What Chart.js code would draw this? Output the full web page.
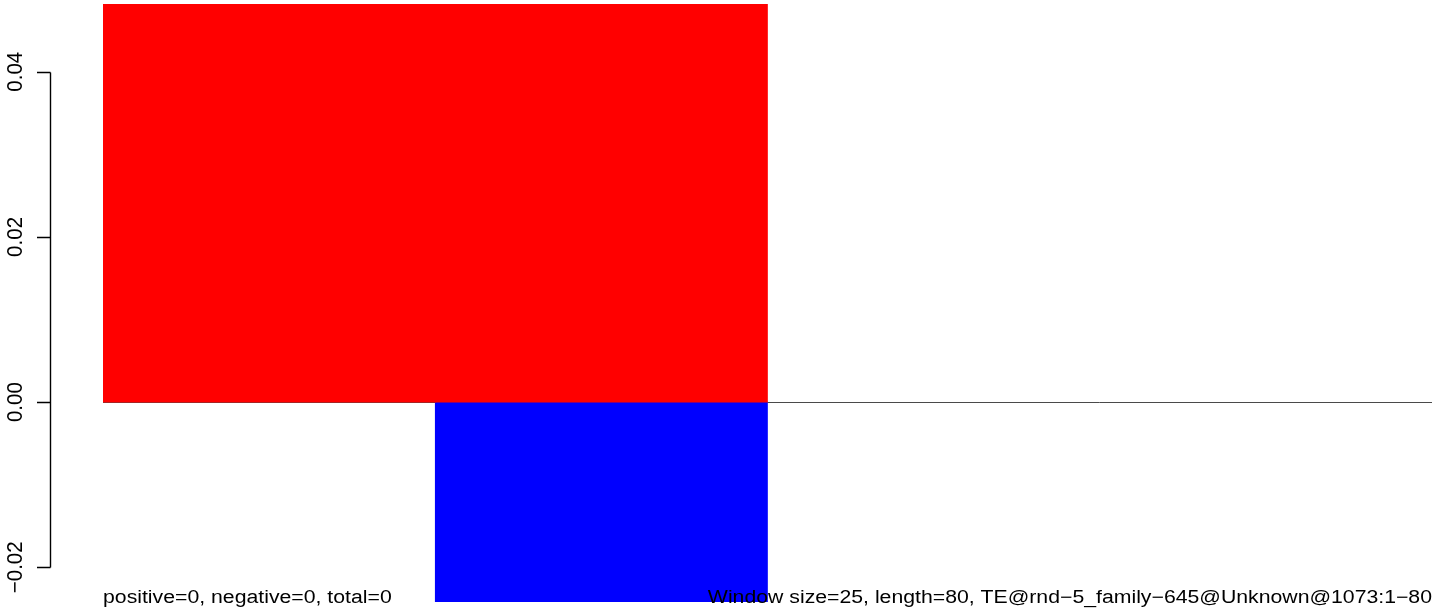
<!DOCTYPE html>
<html>
<head>
<meta charset="utf-8">
<script src="https://cdn.jsdelivr.net/npm/chart.js@4"></script>
<style>
  html, body { margin: 0; padding: 0; background: #fff; }
  canvas { display: block; }
</style>
</head>
<body>
<canvas id="windowChart" width="1444" height="613"></canvas>
<script>
// bins along the sequence window (4 equal bins)
const bins = ['1', '2', '3', '4'];
// bar heights, both run past the plot edge and get clipped
const positiveValues = [0.05, 0.05, null, null];
const negativeValues = [null, -0.03, null, null];
// y axis ticks and their R style labels
const yTicks = [-0.02, 0, 0.02, 0.04];
const yTickLabels = ['\u22120.02', '0.00', '0.02', '0.04'];
// texts printed along the bottom
const leftNote = 'positive=0, negative=0, total=0';
const rightNote = 'Window size=25, length=80, TE@rnd\u22125_family\u2212645@Unknown@1073:1\u221280';

const FONT = '"Liberation Sans", Arial, Helvetica, sans-serif';

// draws the R-ish axis, zero line and notes around the bars
const rDecor = {
  id: 'rDecor',
  beforeDatasetsDraw(chart) {
    const { ctx, chartArea, scales } = chart;
    const y0 = Math.round(scales.y.getPixelForValue(0)) + 0.5;
    ctx.save();
    ctx.strokeStyle = '#4a4a4a';
    ctx.lineWidth = 1;
    ctx.beginPath();
    ctx.moveTo(chartArea.left, y0);
    ctx.lineTo(chartArea.right, y0);
    ctx.stroke();
    ctx.restore();
  },
  afterDatasetsDraw(chart) {
    const { ctx, chartArea, scales } = chart;
    const yScale = scales.y;
    const axisX = 50.5;
    const top = Math.round(yScale.getPixelForValue(Math.max(...yTicks))) + 0.5;
    const bottom = Math.round(yScale.getPixelForValue(Math.min(...yTicks))) + 0.5;

    ctx.save();
    ctx.strokeStyle = '#000';
    ctx.lineWidth = 1.4;
    ctx.beginPath();
    ctx.moveTo(axisX, top);
    ctx.lineTo(axisX, bottom);
    yTicks.forEach(v => {
      const py = Math.round(yScale.getPixelForValue(v)) + 0.5;
      ctx.moveTo(axisX, py);
      ctx.lineTo(37, py);
    });
    ctx.stroke();

    // rotated tick labels
    ctx.fillStyle = '#000';
    ctx.font = '18px ' + FONT;
    ctx.textAlign = 'center';
    ctx.textBaseline = 'alphabetic';
    yTicks.forEach((v, i) => {
      const py = yScale.getPixelForValue(v);
      ctx.save();
      ctx.translate(22, py);
      ctx.rotate(-Math.PI / 2);
      ctx.scale(1.14, 1.2);
      ctx.fillText(yTickLabels[i], 0, 0);
      ctx.restore();
    });

    // bottom notes, a little wider than the font like the original
    const baseY = 602.5;
    ctx.save();
    ctx.translate(chartArea.left, baseY);
    ctx.scale(1.18, 1);
    ctx.textAlign = 'left';
    ctx.fillText(leftNote, 0, 0);
    ctx.restore();

    ctx.save();
    ctx.translate(chartArea.right, baseY);
    ctx.scale(1.18, 1);
    ctx.textAlign = 'right';
    ctx.fillText(rightNote, 0, 0);
    ctx.restore();

    ctx.restore();
  }
};

new Chart(document.getElementById('windowChart'), {
  type: 'bar',
  data: {
    labels: bins,
    datasets: [
      {
        label: 'positive',
        data: positiveValues,
        backgroundColor: '#ff0000',
        borderWidth: 0,
        barPercentage: 1,
        categoryPercentage: 1
      },
      {
        label: 'negative',
        data: negativeValues,
        backgroundColor: '#0000ff',
        borderWidth: 0,
        barPercentage: 1,
        categoryPercentage: 1
      }
    ]
  },
  options: {
    responsive: false,
    devicePixelRatio: 1,
    animation: false,
    events: [],
    layout: { padding: { left: 103, right: 12, top: 4, bottom: 11 } },
    plugins: {
      legend: { display: false },
      tooltip: { enabled: false },
      title: { display: false }
    },
    scales: {
      x: { type: 'category', stacked: true, display: false },
      y: { stacked: true, display: false, min: -0.0242, max: 0.0482 }
    }
  },
  plugins: [rDecor]
});
</script>
</body>
</html>
